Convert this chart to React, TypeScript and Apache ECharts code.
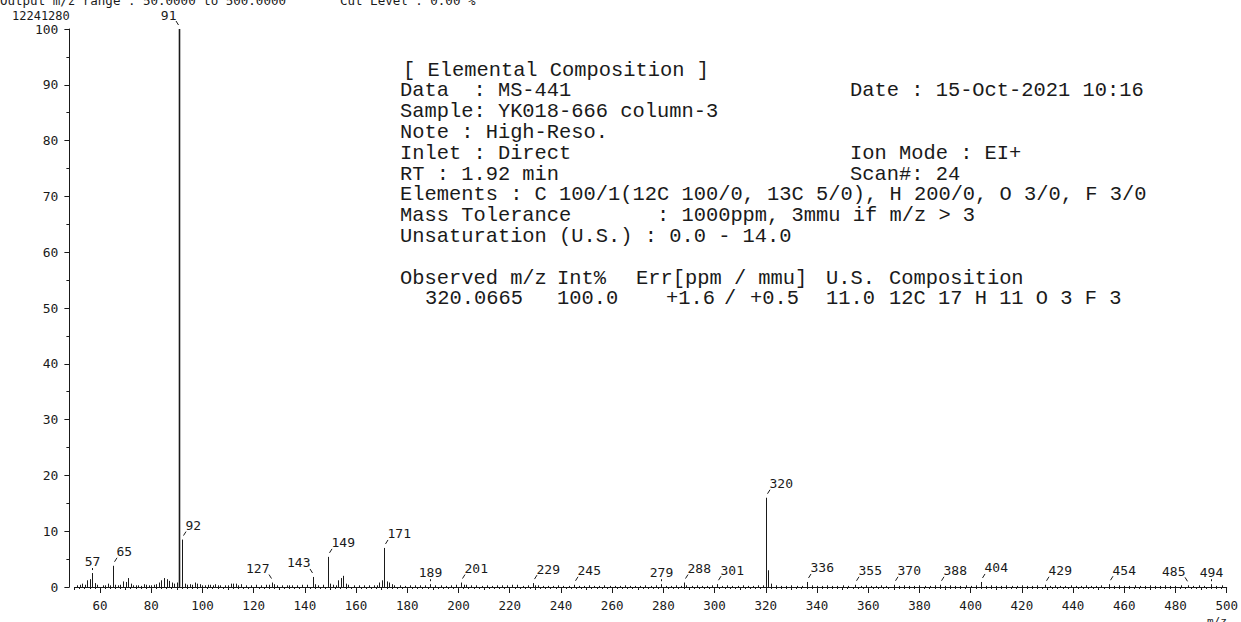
import React, { useEffect, useRef } from "react";
import * as echarts from "echarts";

// Labelled peaks: [m/z, relative intensity %]
const labelledPeaks: [number, number][] = [
  [57, 2.5], [65, 3.8], [91, 100], [92, 8.5], [127, 0.8], [143, 1.8],
  [149, 5.4], [171, 7.0], [189, 0.5], [201, 0.8], [229, 0.7], [245, 0.4],
  [279, 0.5], [288, 0.8], [301, 0.5], [320, 16.0], [336, 0.9], [355, 0.4],
  [370, 0.4], [388, 0.4], [404, 0.9], [429, 0.4], [454, 0.5], [485, 0.3],
  [494, 0.5],
];

// Leader direction for each labelled peak: r = label to the right, l = left, c = centred
const labelSide: Record<number, string> = {
  57: "c", 65: "r", 91: "l", 92: "r", 127: "l", 143: "l", 149: "r", 171: "r",
  189: "c", 201: "r", 229: "r", 245: "r", 279: "c", 288: "r", 301: "r",
  320: "r", 336: "r", 355: "r", 370: "r", 388: "r", 404: "r", 429: "r",
  454: "r", 485: "l", 494: "c",
};

// Other fragment ions
const minorPeaks: [number, number][] = [
  [51, 0.3], [52, 0.4], [53, 0.6], [54, 0.4], [55, 1.2], [56, 1.4], [58, 0.7],
  [59, 0.4], [61, 0.3], [62, 0.3], [63, 0.6], [64, 0.3], [66, 0.4], [67, 0.3],
  [68, 0.4], [69, 1.0], [70, 0.9], [71, 1.6], [72, 0.6], [73, 0.3], [74, 0.3],
  [75, 0.3], [76, 0.2], [77, 0.5], [78, 0.4], [79, 0.3], [80, 0.3], [81, 0.4],
  [82, 0.5], [83, 0.8], [84, 1.2], [85, 1.6], [86, 1.4], [87, 1.1], [88, 0.8],
  [89, 0.6], [90, 0.8], [93, 0.6], [94, 0.4], [95, 0.5], [96, 0.4], [97, 0.8],
  [98, 0.6], [99, 0.5], [100, 0.3], [101, 0.3], [102, 0.4], [103, 0.4],
  [104, 0.3], [105, 0.5], [106, 0.3], [107, 0.3], [109, 0.3], [110, 0.3],
  [111, 0.6], [112, 0.6], [113, 0.6], [114, 0.3], [115, 0.5], [117, 0.3],
  [119, 0.3], [121, 0.4], [123, 0.3], [125, 0.4], [126, 0.4], [128, 0.5],
  [129, 0.3], [131, 0.3], [133, 0.3], [134, 0.3], [135, 0.3], [137, 0.3],
  [139, 0.4], [141, 0.4], [144, 0.5], [145, 0.3], [147, 0.4], [150, 0.6],
  [151, 0.4], [152, 0.3], [153, 1.2], [154, 1.6], [155, 2.0], [156, 0.6],
  [157, 0.4], [159, 0.3], [161, 0.3], [163, 0.3], [165, 0.3], [167, 0.3],
  [168, 0.3], [169, 0.8], [170, 1.2], [172, 1.0], [173, 0.8], [174, 0.5],
  [175, 0.3], [177, 0.3], [179, 0.2], [181, 0.3], [183, 0.3], [185, 0.3],
  [187, 0.3], [191, 0.3], [193, 0.3], [195, 0.2], [197, 0.3], [199, 0.4],
  [202, 0.4], [203, 0.4], [205, 0.3], [207, 0.3], [209, 0.2], [211, 0.3],
  [213, 0.2], [215, 0.3], [217, 0.3], [219, 0.3], [221, 0.4], [223, 0.4],
  [225, 0.2], [227, 0.3], [230, 0.3], [231, 0.3], [233, 0.2], [235, 0.2],
  [237, 0.2], [239, 0.3], [241, 0.2], [243, 0.2], [247, 0.2], [249, 0.2],
  [251, 0.3], [253, 0.2], [255, 0.2], [257, 0.3], [259, 0.2], [261, 0.2],
  [263, 0.2], [265, 0.3], [267, 0.2], [269, 0.2], [271, 0.2], [273, 0.3],
  [275, 0.2], [277, 0.3], [281, 0.2], [283, 0.2], [285, 0.3], [287, 0.2],
  [289, 0.3], [291, 0.2], [293, 0.3], [295, 0.2], [297, 0.2], [299, 0.3],
  [303, 0.2], [305, 0.3], [307, 0.2], [309, 0.2], [311, 0.3], [313, 0.2],
  [315, 0.2], [317, 0.3], [319, 0.3], [321, 3.0], [322, 0.6], [324, 0.3],
  [326, 0.2], [328, 0.2], [330, 0.3], [332, 0.2], [334, 0.2], [338, 0.3],
  [340, 0.2], [342, 0.2], [344, 0.3], [346, 0.2], [348, 0.2], [350, 0.3],
  [352, 0.2], [357, 0.2], [359, 0.3], [361, 0.2], [363, 0.2], [365, 0.3],
  [367, 0.2], [372, 0.2], [374, 0.3], [376, 0.2], [378, 0.2], [380, 0.3],
  [382, 0.2], [384, 0.2], [386, 0.3], [390, 0.2], [392, 0.3], [394, 0.2],
  [396, 0.2], [398, 0.3], [400, 0.2], [402, 0.3], [406, 0.2], [408, 0.3],
  [410, 0.2], [412, 0.2], [414, 0.3], [416, 0.2], [418, 0.2], [420, 0.3],
  [422, 0.2], [424, 0.2], [426, 0.3], [431, 0.2], [433, 0.3], [435, 0.2],
  [437, 0.2], [439, 0.3], [441, 0.2], [443, 0.2], [445, 0.3], [447, 0.2],
  [449, 0.2], [451, 0.3], [456, 0.2], [458, 0.3], [460, 0.2], [462, 0.2],
  [464, 0.3], [466, 0.2], [468, 0.2], [470, 0.3], [472, 0.2], [474, 0.2],
  [476, 0.3], [478, 0.2], [480, 0.2], [482, 0.3], [487, 0.2], [489, 0.3],
  [491, 0.2], [496, 0.2], [498, 0.3],
];

const xMajorTicks = [60, 80, 100, 120, 140, 160, 180, 200, 220, 240, 260, 280, 300, 320, 340, 360, 380, 400, 420, 440, 460, 480, 500];

const headerLine = "Output m/z range : 50.0000 to 500.0000";
const cutLevel = "Cut Level : 0.00 %";
const baseIntensity = "12241280";

const infoLeft = [
  "[ Elemental Composition ]",
  "Data  : MS-441",
  "Sample: YK018-666 column-3",
  "Note : High-Reso.",
  "Inlet : Direct",
  "RT : 1.92 min",
  "Elements : C 100/1(12C 100/0, 13C 5/0), H 200/0, O 3/0, F 3/0",
  "Mass Tolerance       : 1000ppm, 3mmu if m/z > 3",
  "Unsaturation (U.S.) : 0.0 - 14.0",
];
const infoRight: [string, number][] = [
  ["Date : 15-Oct-2021 10:16", 1],
  ["Ion Mode : EI+", 4],
  ["Scan#: 24", 5],
];
const resultHeader = ["Observed m/z", "Int%", "Err[ppm / mmu]", "U.S.", "Composition"];
const resultRow = ["320.0665", "100.0", "+1.6", "/", "+0.5", "11.0", "12C 17 H 11 O 3 F 3"];

const INK = "#1a1a1a";
const MONO = "'Liberation Mono', 'DejaVu Sans Mono', monospace";
const SMALL = "'DejaVu Sans Mono', monospace";

function txt(text: string, x: number, y: number, font: string, align = "left", lh = 14) {
  return {
    type: "text",
    silent: true,
    style: {
      text, x, y, font, fill: INK, lineHeight: lh,
      textAlign: align, textVerticalAlign: "middle",
      align, verticalAlign: "middle",
    },
  };
}

export default function App() {
  const ref = useRef<HTMLDivElement>(null);

  useEffect(() => {
    document.body.style.margin = "0";
    const chart = echarts.init(ref.current!, null, { renderer: "svg" });

    const bigFont = `20.4px ${MONO}`;
    const lineY0 = 70;
    const lineStep = 20.8;
    const graphics: any[] = [];
    graphics.push(txt(headerLine, 0, 0, `12.5px ${SMALL}`));
    graphics.push(txt(cutLevel, 340, 0, `12.5px ${SMALL}`));
    graphics.push(txt(baseIntensity, 12, 16, `12px ${SMALL}`));
    graphics.push(txt("m/z", 1207, 621, `11px ${SMALL}`));
    infoLeft.forEach((s, i) => {
      graphics.push(txt(s, i === 0 ? 403 : 400, lineY0 + i * lineStep, bigFont, "left", 20));
    });
    infoRight.forEach(([s, row]) => {
      graphics.push(txt(s, 850, lineY0 + row * lineStep, bigFont, "left", 20));
    });
    const hdrY = lineY0 + 10 * lineStep;
    const rowY = hdrY + lineStep;
    const hdrX = [400, 557, 636, 826, 889];
    resultHeader.forEach((s, i) => graphics.push(txt(s, hdrX[i], hdrY, bigFont, "left", 20)));
    const rowX = [425, 557, 666, 724, 750, 826, 889];
    resultRow.forEach((s, i) => graphics.push(txt(s, rowX[i], rowY, bigFont, "left", 20)));

    const allPeaks = [...minorPeaks, ...labelledPeaks].sort((a, b) => a[0] - b[0]);

    const stickItem = (_p: any, api: any) => {
      const mz = api.value(0);
      const h = api.value(1);
      const b = api.coord([mz, 0]);
      const t = api.coord([mz, h]);
      const x = Math.round(b[0]) + 0.5;
      return {
        type: "line",
        shape: { x1: x, y1: b[1], x2: x, y2: t[1] },
        style: { stroke: INK, lineWidth: h > 50 ? 1.6 : 1 },
      };
    };

    const labelItem = (_p: any, api: any) => {
      const mz = api.value(0);
      const h = api.value(1);
      const t = api.coord([mz, h]);
      const x = Math.round(t[0]) + 0.5;
      const y = t[1];
      const side = labelSide[mz] || "r";
      const font = `13px ${SMALL}`;
      let leader: any;
      let text: any;
      let dy = 14;
      if (side === "r") {
        leader = { x1: x + 1, y1: y - 4, x2: x + 3.5, y2: y - 8 };
        text = { x: x + 3, align: "left" };
      } else if (side === "l") {
        leader = { x1: x - 1, y1: y - 4, x2: x - 3.5, y2: y - 8 };
        text = { x: x - 3, align: "right" };
      } else {
        leader = { x1: x, y1: y - 3, x2: x, y2: y - 5 };
        text = { x: x, align: "center" };
        dy = 12;
      }
      return {
        type: "group",
        children: [
          { type: "line", shape: leader, style: { stroke: INK, lineWidth: 1 } },
          {
            type: "text",
            style: {
              text: String(mz), x: text.x, y: y - dy, font, fill: INK,
              textAlign: text.align, textVerticalAlign: "middle",
              align: text.align, verticalAlign: "middle",
            },
          },
        ],
      };
    };

    chart.setOption({
      animation: false,
      backgroundColor: "#ffffff",
      grid: { left: 74.4, right: 13, top: 29, bottom: 35, containLabel: false },
      xAxis: [
        {
          type: "value", min: 50, max: 500, interval: 10,
          axisLine: { show: true, lineStyle: { color: INK, width: 1 } },
          axisTick: { show: true, length: 3, lineStyle: { color: INK } },
          minorTick: { show: true, splitNumber: 5, length: 2, lineStyle: { color: INK } },
          splitLine: { show: false },
          axisLabel: {
            margin: 12, color: INK, fontFamily: SMALL, fontSize: 12.5,
            formatter: (v: number) => (v % 20 === 0 ? String(v) : ""),
          },
        },
        {
          type: "value", min: 50, max: 500, position: "bottom",
          axisLine: { show: false },
          axisTick: { show: true, length: 6, customValues: xMajorTicks, lineStyle: { color: INK } },
          axisLabel: { show: false },
          splitLine: { show: false },
        },
      ],
      yAxis: {
        type: "value", min: 0, max: 100, interval: 10, offset: 5,
        axisLine: { show: true, lineStyle: { color: INK, width: 1 } },
        axisTick: { show: true, length: 5, lineStyle: { color: INK } },
        minorTick: { show: true, splitNumber: 2, length: 3, lineStyle: { color: INK } },
        splitLine: { show: false },
        axisLabel: { margin: 11, color: INK, fontFamily: SMALL, fontSize: 13 },
      },
      series: [
        { type: "custom", renderItem: stickItem, data: allPeaks, clip: false, silent: true },
        { type: "custom", renderItem: labelItem, data: labelledPeaks, clip: false, silent: true },
      ],
      graphic: graphics,
    });

    return () => chart.dispose();
  }, []);

  return (
    <div
      ref={ref}
      style={{ position: "absolute", left: 0, top: 0, width: 1241, height: 622, background: "#fff" }}
    />
  );
}
